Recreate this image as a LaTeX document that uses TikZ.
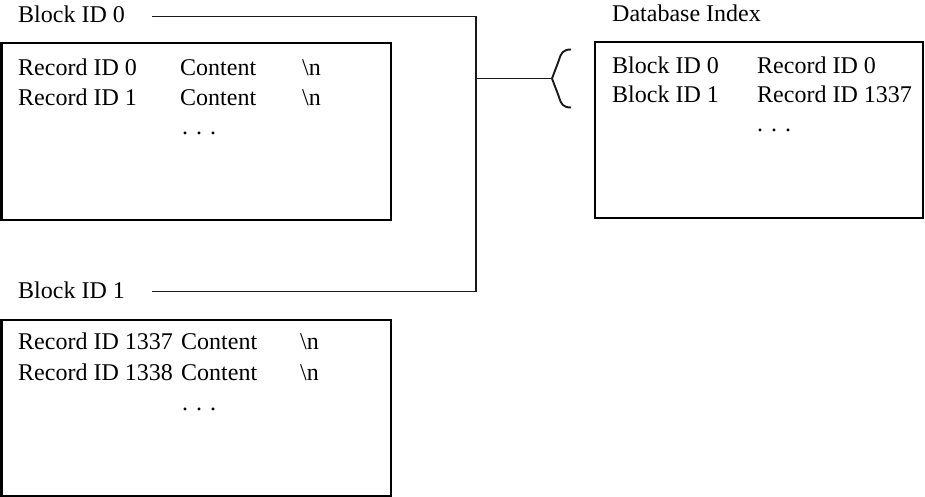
\documentclass[tikz,border=0pt]{standalone}
\usepackage{fontspec}
\setmainfont{Liberation Serif}
\begin{document}
\begin{tikzpicture}[x=1bp,y=-1bp,
  txt/.style={anchor=base west, inner sep=0pt, font=\fontsize{24bp}{28bp}\selectfont},
  box/.style={draw, line width=2bp, anchor=north west, inner sep=0pt, outer sep=0pt},
  conn/.style={line width=1.9bp, draw=black!90},
]
\useasboundingbox (0,0) rectangle (925,497);
% boxes
\node[box, minimum width=389.5bp, minimum height=177bp] (box1) at (1.5,43) {};
\node[box, minimum width=389.5bp, minimum height=175.5bp] (box2) at (1.5,320) {};
\node[box, minimum width=328bp, minimum height=176bp] (box3) at (595,42) {};
% labels
\node[txt] (b0) at (18,23) {Block ID 0};
\node[txt] (b1) at (18,298.5) {Block ID 1};
\node[txt] (dbi) at (612,21.5) {Database Index};
% box 1
\node[txt] (r0) at (18,76) {Record ID 0};
\node[txt] (c0) at (180,76) {Content};
\node[txt] (n0) at (302,76) {\textbackslash n};
\node[txt] (r1) at (18,106) {Record ID 1};
\node[txt] (c1) at (180,106) {Content};
\node[txt] (n1) at (302,106) {\textbackslash n};
\node[txt] (d1) at (182,135) {.\,\,.\,\,.};
% box 2
\node[txt] (r2) at (18,350) {Record ID 1337};
\node[txt] (c2) at (181,350) {Content};
\node[txt] (n2) at (300,350) {\textbackslash n};
\node[txt] (r3) at (18,380) {Record ID 1338};
\node[txt] (c3) at (181,380) {Content};
\node[txt] (n3) at (300,380) {\textbackslash n};
\node[txt] (d2) at (182,410) {.\,\,.\,\,.};
% box 3
\node[txt] (i0) at (612,73.5) {Block ID 0};
\node[txt] (ir0) at (757,73.5) {Record ID 0};
\node[txt] (i1) at (612,102.5) {Block ID 1};
\node[txt] (ir1) at (757,102.5) {Record ID 1337};
\node[txt] (d3) at (757,131.5) {.\,\,.\,\,.};
% connectors
\coordinate (l0) at (152,16.5);
\coordinate (l1) at (152,291.5);
\coordinate (j) at (476,78.5);
\coordinate (tip) at (552,78.5);
\draw[conn] (l0) -| (j) |- (l1);
\draw[conn] (j) -- (tip);
\draw[conn, line join=miter] (571,49.5) .. controls (563,49.5) and (561,53) .. (559,60) -- (tip) -- (559,97) .. controls (561,104) and (563,107.5) .. (571,107.5);
\end{tikzpicture}
\end{document}
